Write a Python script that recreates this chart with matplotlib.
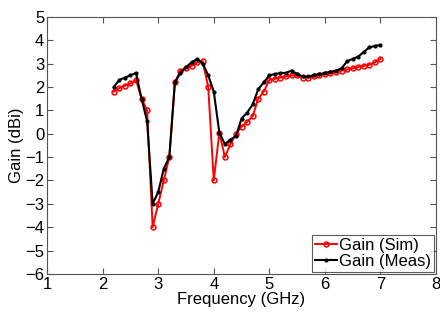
import numpy as np
import matplotlib
matplotlib.use('Agg')
import matplotlib.pyplot as plt

freq = np.round(np.arange(2.2, 7.01, 0.1), 1)

gain_sim = [1.8, 1.95, 2.05, 2.15, 2.3, 1.5, 1.0, -4.0, -3.0, -2.0,
            -1.0, 2.2, 2.7, 2.8, 2.9, 3.05, 3.1, 2.0, -2.0, 0.05,
            -1.0, -0.45, 0.0, 0.3, 0.5, 0.75, 1.5, 1.8, 2.3, 2.35,
            2.4, 2.45, 2.5, 2.5, 2.4, 2.4, 2.45, 2.5, 2.55, 2.6,
            2.65, 2.7, 2.75, 2.8, 2.85, 2.9, 2.95, 3.05, 3.2]
gain_meas = [2.0, 2.3, 2.4, 2.5, 2.6, 1.5, 0.53, -3.0, -2.5, -1.5,
             -1.0, 2.2, 2.6, 2.85, 3.05, 3.2, 3.0, 2.5, 1.8, 0.05,
             -0.45, -0.25, -0.1, 0.65, 0.9, 1.25, 1.9, 2.2, 2.5, 2.55,
             2.6, 2.6, 2.7, 2.55, 2.45, 2.45, 2.5, 2.55, 2.6, 2.65,
             2.7, 2.8, 3.1, 3.2, 3.3, 3.5, 3.7, 3.75, 3.8]

plt.rcParams['font.family'] = 'Liberation Sans'
fig = plt.figure(figsize=(4.4, 3.12), dpi=100)
ax = fig.add_axes([0.107, 0.122, 0.884, 0.824])
ax.plot(freq, gain_sim, color='red', lw=1.4, marker='o', ms=3.5, mfc='none',
        mew=1.1, label='Gain (Sim)')
ax.plot(freq, gain_meas, color='black', lw=1.5, marker='.', ms=4,
        label='Gain (Meas)')
ax.set_xlim(1, 8)
ax.set_ylim(-6, 5)
ax.set_xticks(range(1, 9))
ax.set_yticks(range(-6, 6))
ax.tick_params(direction='in', top=True, right=True, labelsize=12, length=4,
               color='#555555', pad=2)
for s in ax.spines.values():
    s.set_color('#555555')
    s.set_linewidth(0.8)
ax.set_xlabel('Frequency (GHz)', fontsize=12, labelpad=0)
ax.set_ylabel('Gain (dBi)', fontsize=12, labelpad=1)
leg = ax.legend(loc='lower right', fontsize=12, fancybox=False, borderpad=0.2,
                handlelength=1.3, handletextpad=0.15, labelspacing=0.05,
                borderaxespad=0.1)
leg.get_frame().set_edgecolor('#333333')
leg.get_frame().set_linewidth(0.8)
fig.savefig('out.png', dpi=100)
